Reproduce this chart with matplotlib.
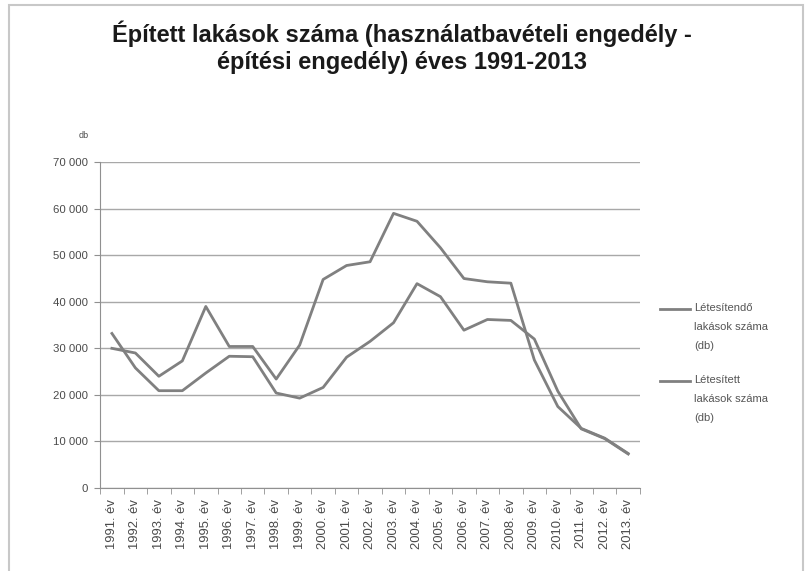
import matplotlib.pyplot as plt
from matplotlib.patches import Rectangle
from matplotlib.lines import Line2D

# years and the two series (db)
years = [f"{y}. év" for y in range(1991, 2014)]
letesitendo = [30000, 29000, 24000, 27300, 39000, 30400, 30400, 23400, 30700,
               44800, 47800, 48600, 59000, 57300, 51600, 45000, 44300, 44000,
               27500, 17500, 12800, 10700, 7400]
letesitett = [33200, 25800, 20900, 20900, 24700, 28300, 28200, 20400, 19300,
              21600, 28100, 31500, 35500, 43900, 41100, 33900, 36200, 36000,
              32000, 20800, 12700, 10600, 7300]
yticks = [0, 10000, 20000, 30000, 40000, 50000, 60000, 70000]
ytick_labels = ["0", "10 000", "20 000", "30 000", "40 000", "50 000", "60 000", "70 000"]
legend_labels = ['Létesítendő\nlakások száma\n(db)', 'Létesített\nlakások száma\n(db)']

plt.rcParams['font.family'] = ['Liberation Sans', 'DejaVu Sans']

W, H = 808, 571
fig = plt.figure(figsize=(W / 100, H / 100), dpi=100)
# frame of the original chart object (bottom edge is cut off)
fig.patches.append(Rectangle((9 / W, -0.01), (803 - 9) / W, 1.01 - 5 / H,
                             transform=fig.transFigure, fill=False,
                             edgecolor='#c8c8c8', lw=1.5))

ax = fig.add_axes([0.124, 0.1454, 0.668, 0.5706])
x = list(range(len(years)))
ax.plot(x, letesitendo, color='#808080', lw=2.0)
ax.plot(x, letesitett, color='#808080', lw=2.0)

ax.set_xlim(-0.5, len(years) - 0.5)
ax.set_ylim(0, 70000)
ax.set_yticks(yticks)
ax.set_yticklabels(ytick_labels, fontsize=8.2, color='#4a4a4a')
ax.set_xticks(x)
ax.set_xticklabels(years, rotation=90, fontsize=9.4, color='#4a4a4a')
ax.set_xticks([i - 0.5 for i in range(len(years) + 1)], minor=True)
ax.tick_params(axis='x', which='major', length=0, pad=8)
ax.tick_params(axis='x', which='minor', length=4, color='#909090')
ax.tick_params(axis='y', length=4, color='#909090', pad=5)
ax.grid(axis='y', color='#a8a8a8', lw=1.0)
ax.set_axisbelow(True)
for s in ['top', 'right']:
    ax.spines[s].set_visible(False)
for s in ['left', 'bottom']:
    ax.spines[s].set_color('#909090')

ax.text(-0.03, 1.075, 'db', transform=ax.transAxes, fontsize=6.5, color='#4a4a4a',
        ha='center')

fig.text(0.497, 0.917, 'Épített lakások száma (használatbavételi engedély -\népítési engedély) éves 1991-2013',
         ha='center', va='center', fontsize=17, fontweight='bold', color='#1a1a1a',
         linespacing=1.2)

# legend, handle level with the first text line as in the original
for label, ytop in zip(legend_labels, [309, 381]):
    fig.add_artist(Line2D([660 / W, 690 / W], [1 - ytop / H] * 2, color='#808080',
                          lw=2.0, transform=fig.transFigure))
    fig.text(694 / W, 1 - (ytop - 6) / H, label, ha='left', va='top', fontsize=8,
             color='#555555', linespacing=2.15)

fig.savefig('out.png', dpi=100)
